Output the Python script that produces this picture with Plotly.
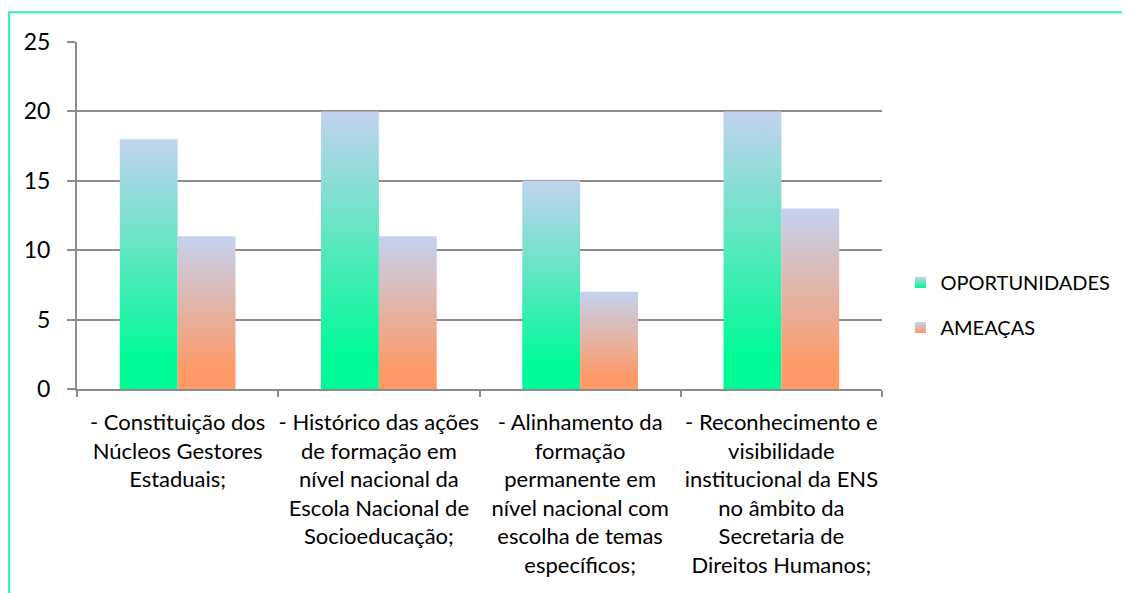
import plotly.graph_objects as go

categorias = [
    "- Constituição dos<br>Núcleos Gestores<br>Estaduais;",
    "- Histórico das ações<br>de formação em<br>nível nacional da<br>Escola Nacional de<br>Socioeducação;",
    "- Alinhamento da<br>formação<br>permanente em<br>nível nacional com<br>escolha de temas<br>específicos;",
    "- Reconhecimento e<br>visibilidade<br>institucional da ENS<br>no âmbito da<br>Secretaria de<br>Direitos Humanos;",
]
oportunidades = [18, 20, 15, 20]
ameacas = [11, 11, 7, 13]

FONT = "Lato"
TOPO = "#C3D2EF"
series = [
    ("OPORTUNIDADES", oportunidades, "#00FA96", -1),
    ("AMEAÇAS", ameacas, "#FF9966", 0),
]
LARG = 0.2875

# page has an 8px body margin, so the figure is 8px smaller each way
W, H = 1122, 585
L, R, T, B = 69, 247.5, 34.3, 204
pw, ph = W - L - R, H - T - B

fig = go.Figure()

for nome, valores, cor, desloc in series:
    for i, v in enumerate(valores):
        x0 = i + desloc * LARG
        x1 = x0 + LARG
        fig.add_trace(go.Scatter(
            x=[x0, x0, x1, x1, x0], y=[0, v, v, 0, 0],
            fill="toself", mode="none",
            fillgradient=dict(type="vertical",
                              colorscale=[[0, cor], [0.12, cor], [1, TOPO]]),
            showlegend=False, hoverinfo="skip"))
    # legend entry
    fig.add_trace(go.Scatter(
        x=[None], y=[None], mode="markers", name=nome, legendgroup=nome,
        marker=dict(symbol="square", size=11, color=TOPO,
                    gradient=dict(type="vertical", color=cor))))

fig.add_trace(go.Scatter(x=[None], y=[None], xaxis="x2", showlegend=False))

fig.update_layout(
    width=W, height=H,
    margin=dict(l=L, r=R, t=T, b=B),
    paper_bgcolor="white", plot_bgcolor="white",
    font=dict(family=FONT, size=22, color="black"),
    xaxis=dict(range=[-0.5, 3.5], tickvals=[-0.5, 0.5, 1.5, 2.5, 3.5],
               ticktext=["", "", "", "", ""], ticks="outside", ticklen=6,
               tickcolor="#8C8C8C", tickwidth=2, showgrid=False,
               showline=True, linecolor="#8C8C8C", linewidth=2,
               zeroline=False, fixedrange=True),
    xaxis2=dict(range=[-0.5, 3.5], overlaying="x", anchor="y", side="bottom",
                tickvals=[0, 1, 2, 3], ticktext=categorias, ticks="",
                showgrid=False, showline=False, zeroline=False,
                ticklabelstandoff=18,
                tickfont=dict(family=FONT, size=22, color="black")),
    yaxis=dict(range=[0, 25], dtick=5, ticks="outside", ticklen=8,
               tickcolor="#8C8C8C", tickwidth=2, gridcolor="#8C8C8C",
               gridwidth=2, showline=True, linecolor="#8C8C8C", linewidth=2,
               zeroline=False, ticklabelstandoff=12,
               tickfont=dict(family=FONT, size=23, color="black")),
    legend=dict(x=(893 - L) / pw, y=(381 - 255) / ph, xanchor="left",
                yanchor="top", tracegroupgap=16,
                font=dict(family=FONT, size=20, color="black"),
                bgcolor="rgba(0,0,0,0)"),
    shapes=[dict(type="rect", xref="paper", yref="paper",
                 x0=(1 - L) / pw, x1=(1118 - L) / pw,
                 y0=(381 - 620) / ph, y1=(381 - 4.5) / ph,
                 line=dict(color="#2EF5A5", width=2), layer="below")],
)

fig.write_html("out.html")
